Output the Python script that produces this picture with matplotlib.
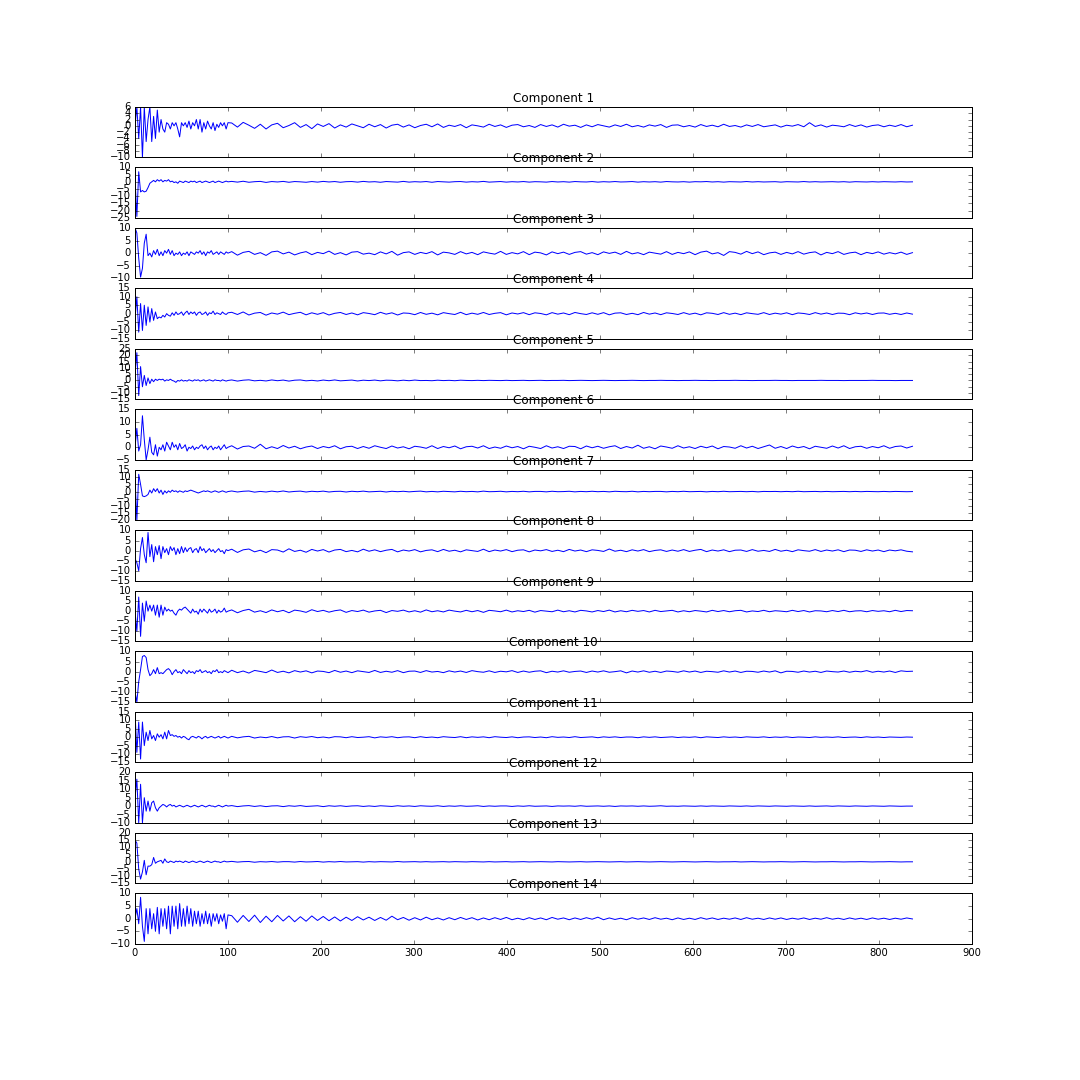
import numpy as np
import matplotlib
matplotlib.use("Agg")
import matplotlib.pyplot as plt


# early part of each component, sampled every 2 samples from 0 to 100
head_1 = [0, 6, -4, 6, -10, 6, -5, 2, 6, -5, 3, -4, 5, -2, 2, -1, -2, 1, 0.5, -1,
          1, 0, 1, -1, -3.5, 1, 0, 1, -0.5, 1.5, -1, 1, 0, 2, -1, 2, -2, 1, -1, 1.5,
          0, -1, 1, -1.5, 0.5, -0.5, 1, 0, 1, -1, 1]
head_2 = [2, -24, 7, -7, -6, -7, -6.5, -4, -1, 0, 1, 0, 1.5, 0.5, 1.5, 0, 1, 0.5, 1.5, 0,
          0.5, -0.5, 0, -1, 0.5, 0, -0.5, 0.5, 0, -0.5, 0.5, 0, 0.5, -0.5, 0, 0.5, -0.5, 0, 0.5, 0,
          -0.5, 0, 0.5, -0.5, 0, 0.5, 0, -0.5, 0, 0.5, 0]
head_3 = [10, 8, -2, -9.5, -6, 4, 7.5, -1, 0, -1.5, 1, -0.5, 1.5, -1, 0.5, -1, 1, 0, 1.5, -0.5,
          1, -1, 0, -0.5, 0.5, -1, 0, -0.5, 0.5, -1, 0.5, 0, -0.5, 0.5, 0, 1, -0.5, 0.5, -1, 0.5,
          0, 1, -0.5, 0, 0.5, -0.5, 0.5, 0, -0.5, 0.5, 0]
head_4 = [-3, 10, -11, 6, -10, 5, -7, 4, -5, 3, -4, 1, -3, -2, -2.5, -1, -2, 0, -1, -1.5,
          0.5, -1, 1, -0.5, 0, 1, -1, 0.5, 1.5, -0.5, 1, 0, 1, -1, 0.5, 1, -0.5, 0, 1, -1,
          0.5, 0, 1.5, -0.5, 0.5, 0, -0.5, 1, 0, -0.5, 0.5]
head_5 = [5, 22, -12, 11, -5, 4, -4, 2, -2.5, 1, -1, 1, 0, 1, 0.5, 1, -0.5, 0.5, 0, 1,
          0, -0.5, -1.5, 0, -0.5, 0.5, -0.5, 0, -0.5, 0.5, 0, -0.5, 0.5, 0, 0.5, -0.5, 0, 0.5, -0.5, 0,
          0.5, 0, -0.5, 0.5, 0, 0, -0.5, 0.5, 0, -0.5, 0]
head_6 = [0, 7.5, -1.5, 1, 12.5, 3, -5, -1, 4, -2, -3, 1, -3.5, 0, -1, 1, -1.5, 2, 0.5, -1,
          2, 0, 1, -1, 1.5, -0.5, 0, 1, -1.5, 0, -0.5, 0.5, -1, 0, -0.5, 0.5, 1, -0.5, 0.5, -1,
          0, 0.5, -1, 0, -0.5, 0.5, -1, 0, 1, -0.5, 0]
head_7 = [9, -20, 12, 5, -3, -3.5, -3, -2, 1, -1, 2, 0, 2, -1, 1, -2, 0.5, -1, 0.5, -0.5,
          1, 0, 0.5, -0.5, 0.5, 0, -0.5, 0.5, 0, 0.5, 1, 0.5, 0, -0.5, -1, -0.5, 0, 0.5, 0, 0.5,
          0, -0.5, 0, 0.5, 0, -0.5, 0, 0.5, 0, -0.5, 0]
head_8 = [-4, -6, -10, 1, 6.5, -2, -6, 9, -3, 3, -5.5, 2, -2, 2.5, -4, 2, -1, 1, -2, 2,
          0, 1.5, -2, 1, -1.5, 2, -1, 1.5, -0.5, 1, 1.5, -1, 0.5, 1, -1, 2, 0, 1, -1, 0,
          1, -0.5, 0.5, -1, 0, 1, -0.5, 0, -1.5, 0.5, 0]
head_9 = [0, -10, 7, -12.5, 4, -5, 5, 0, 3, 0, 3, -2, 3, -3, 3, -2, 2, 0, 1, 0,
          0.5, -1, -2, 0, 1, 0.5, 1.5, 2, 1, 0, -1, 1, -0.5, 0, -1.5, 1, -0.5, 1, 0, -1,
          1, -0.5, 0, 1, -1, 0.5, -0.5, 0, 1.5, -0.5, 0]
head_10 = [-10, -15, -5, 1, 7.5, 8, 7, 1, -2, -1, 1, -1, 2, -1, -0.5, -1, 0, 1, 1.5, 0.5,
           -1.5, 0, 1, -0.5, 0, -1, 1, 0, -1, 0.5, -0.5, 0, -1, 0.5, 0, 1, -0.5, 0, 0.5, -0.5,
           0, -1, 0.5, 0, 1, -0.5, 0, -0.5, 0.5, 0, -0.5]
head_11 = [15, -9, 9, -13, 9, -5, 3, -2, 4, -1, 1, -2, 2, 0, 1.5, -1, 3, -1, 4, 1,
           1.5, 0.5, 1, 0, 0.5, -0.5, 0.5, 0, -1, -1.5, 0, 0.5, 0, -0.5, 0.5, 0, -1, 0, 0.5, -0.5,
           0, 0.5, 0, -0.5, 0, 0.5, -0.5, 0, 0.5, 0, -0.5]
head_12 = [5, 16, -10, 13, -10, 5, -3, 3, -3, 2, 3, -1, -3, -1, 0, 1, 0.5, -0.5, 0.5, 1,
           0, 0.5, -0.5, 0, 0.5, 0, -0.5, 0, 0.5, 0, -0.5, 0, 0.5, 0, -0.5, 0, 0.5, 0, -0.5, 0,
           0.5, 0, 0, -0.5, 0, 0.5, 0, -0.5, 0, 0.5, 0]
head_13 = [15, 13, -5, -12, -7, 1, -9, -3, -3, -2, 3, -1, 0, 0.5, 1, -1, 2, 0, -0.5, 0.5,
           0, -0.5, 0.5, 0, 0.5, 0, -0.5, 0.5, 0, -0.5, 0, 0.5, 0, -0.5, 0, 0.5, 0, -0.5, 0, 0.5,
           0, -0.5, 0, 0.5, 0, 0, -0.5, 0, 0.5, 0, 0]
head_14 = [0, 4, -2, 8.5, -3, -9, 4, -6, 4, -4, 2, -5, 4.5, -6, 4, -3, 4, -4, 5, -6,
           5, -3, 5, -4, 6, -3, 4, -3, 5, -2, 4, -3, 3, -2, 3, -3, 2, -2, 3, -2,
           2, -3, 2, -1, 2, -2, 1.5, -1, 2, -4, 1.5]

# later part of each component, from sample 104 to the last sample (836)
tail_1 = [0.9, -0.4, 1.1, 0.2, -0.8, 0.5, -1.0, 0.3, 0.8, -0.6, 0.1, 1.0, -0.5, 0.4, -0.9, 0.6,
          -0.2, 0.7, -0.7, 0.3, -0.4, 0.6, 0.0, -0.6, 0.5, -0.3, 0.4, -0.7, 0.2, 0.5, -0.4, 0.3,
          -0.6, 0.1, 0.5, -0.3, 0.6, -0.5, 0.2, -0.2, 0.4, -0.6, 0.3, 0.0, -0.4, 0.5, -0.2, 0.3,
          -0.5, 0.2, 0.4, -0.3, 0.1, -0.5, 0.4, -0.2, 0.3, -0.4, 0.5, -0.1, 0.2, -0.5, 0.3, -0.3,
          0.4, 0.0, -0.4, 0.3, -0.2, 0.5, -0.3, 0.1, -0.4, 0.3, -0.1, 0.4, -0.5, 0.2, 0.3, -0.3,
          0.1, -0.4, 0.4, -0.2, 0.2, -0.3, 0.5, -0.2, 0.1, -0.4, 0.3, -0.2, 0.4, -0.3, 0.0, 0.3,
          -0.4, 0.2, -0.1, 0.4, -0.3, 1.0, -0.2, 0.3, -0.4, 0.2, 0.0, -0.3, 0.4, -0.2, 0.3, -0.4,
          0.1, 0.3, -0.3, 0.2, -0.2, 0.4, -0.3, 0.2]
tail_2 = [0.3, -0.2, 0.4, -0.3, 0.1, 0.3, -0.4, 0.2, -0.1, 0.3, -0.3, 0.2, 0.0, -0.3, 0.2, -0.2,
          0.3, -0.1, 0.2, -0.3, 0.1, 0.2, -0.2, 0.3, -0.1, 0.1, -0.3, 0.2, 0.0, -0.2, 0.3, -0.2,
          0.1, -0.1, 0.2, -0.3, 0.2, 0.0, -0.2, 0.1, 0.2, -0.2, 0.1, -0.1, 0.3, -0.2, 0.0, 0.2,
          -0.2, 0.1, -0.1, 0.2, -0.2, 0.1, 0.0, -0.2, 0.2, -0.1, 0.1, -0.2, 0.2, 0.0, -0.1, 0.2,
          -0.2, 0.1, -0.1, 0.2, -0.1, 0.0, 0.2, -0.2, 0.1, -0.1, 0.1, -0.2, 0.2, 0.0, -0.1, 0.1,
          -0.2, 0.1, 0.0, 0.2, -0.1, 0.1, -0.2, 0.1, 0.0, -0.1, 0.2, -0.1, 0.1, -0.1, 0.0, 0.1,
          -0.2, 0.1, 0.0, -0.1, 0.2, -0.1, 0.1, -0.1, 0.0, 0.1, -0.1, 0.1, -0.2, 0.1, 0.0, -0.1,
          0.1, -0.1, 0.1, 0.0, -0.1, 0.1, -0.1, 0.0]
tail_3 = [0.6, -0.8, 0.3, 0.7, -0.5, 0.2, -0.9, 0.5, 0.8, -0.3, 0.4, -0.7, 0.1, 0.6, -0.6, 0.3,
          -0.2, 0.8, -0.5, 0.2, -0.7, 0.4, 0.6, -0.4, 0.0, -0.6, 0.5, -0.3, 0.7, -0.8, 0.2, 0.5,
          -0.5, 0.3, -0.2, 0.6, -0.7, 0.4, 0.1, -0.5, 0.6, -0.3, 0.3, -0.6, 0.5, 0.0, -0.4, 0.7,
          -0.5, 0.2, -0.3, 0.6, -0.6, 0.4, 0.1, -0.7, 0.5, -0.2, 0.4, -0.5, 0.3, 0.6, -0.4, 0.2,
          -0.6, 0.5, -0.1, 0.4, -0.5, 0.7, -0.3, 0.2, -0.6, 0.4, 0.0, -0.4, 0.6, -0.5, 0.3, -0.2,
          0.5, -0.6, 0.4, 0.8, -0.3, 0.2, -0.9, 0.6, 0.3, -0.4, 0.7, -0.2, 0.5, -0.6, 0.1, 0.4,
          -0.5, 0.3, -0.3, 0.6, -0.4, 0.2, 0.5, -0.7, 0.3, -0.2, 0.6, -0.5, 0.1, 0.4, -0.6, 0.3,
          -0.2, 0.5, -0.4, 0.2, -0.3, 0.4, -0.5, 0.2]
tail_4 = [0.8, -0.5, 1.0, -0.8, 0.3, 0.7, -0.9, 0.4, -0.3, 0.9, -0.6, 0.2, 0.8, -0.7, 0.5, -0.4,
          0.6, -0.8, 0.2, 0.7, -0.5, 0.4, -0.7, 0.6, 0.1, -0.6, 0.8, -0.3, 0.5, -0.8, 0.4, 0.2,
          -0.6, 0.7, -0.4, 0.3, -0.7, 0.6, 0.0, -0.5, 0.8, -0.6, 0.3, -0.4, 0.7, -0.5, 0.2, 0.6,
          -0.7, 0.4, -0.2, 0.6, -0.6, 0.5, 0.1, -0.7, 0.6, -0.3, 0.4, -0.6, 0.7, 0.0, -0.5, 0.5,
          -0.4, 0.6, -0.7, 0.3, 0.5, -0.5, 0.2, -0.6, 0.7, -0.3, 0.4, -0.6, 0.5, 0.1, -0.5, 0.6,
          -0.4, 0.3, -0.7, 0.5, 0.2, -0.5, 0.6, -0.4, 0.3, -0.6, 0.5, 0.0, -0.4, 0.6, -0.5, 0.3,
          -0.3, 0.5, -0.6, 0.4, 0.1, -0.5, 0.6, -0.3, 0.4, -0.5, 0.3, 0.2, -0.6, 0.5, -0.2, 0.4,
          -0.5, 0.3, 0.4, -0.4, 0.2, -0.5, 0.4, -0.3]
tail_5 = [0.4, -0.5, 0.2, 0.5, -0.3, 0.1, -0.4, 0.4, -0.2, 0.3, -0.5, 0.2, 0.4, -0.3, 0.1, -0.4,
          0.3, -0.2, 0.4, -0.3, 0.0, 0.3, -0.4, 0.2, -0.1, 0.3, -0.3, 0.2, 0.1, -0.3, 0.2, -0.2,
          0.3, -0.1, 0.0, -0.2, 0.2, -0.1, 0.1, -0.2, 0.2, 0.0, -0.1, 0.1, -0.1, 0.1, 0.0, -0.1,
          0.1, -0.1, 0.0, 0.1, -0.1, 0.0, 0.1, -0.1, 0.0, 0.0, 0.1, -0.1, 0.0, 0.1, 0.0, -0.1,
          0.0, 0.1, 0.0, -0.1, 0.0, 0.0, 0.1, 0.0, -0.1, 0.0, 0.0, 0.1, 0.0, 0.0, -0.1, 0.0,
          0.0, 0.1, 0.0, 0.0, -0.1, 0.0, 0.0, 0.0, 0.1, 0.0, 0.0, -0.1, 0.0, 0.0, 0.0, 0.1,
          0.0, 0.0, -0.1, 0.0, 0.0, 0.0, 0.0, 0.1, 0.0, 0.0, 0.0, -0.1, 0.0, 0.0, 0.0, 0.0,
          0.1, 0.0, 0.0, 0.0, -0.1, 0.0, 0.0, 0.0]
tail_6 = [0.6, -0.7, 0.3, 0.5, -0.4, 1.2, -0.6, 0.2, -0.5, 0.7, -0.3, 0.4, -0.6, 0.1, 0.5, -0.5,
          0.3, -0.2, 0.6, -0.6, 0.2, 0.4, -0.5, 0.3, -0.4, 0.6, 0.0, -0.5, 0.5, -0.3, 0.2, -0.6,
          0.4, 0.1, -0.4, 0.6, -0.5, 0.3, -0.2, 0.5, -0.6, 0.2, 0.4, -0.3, 0.6, -0.5, 0.1, -0.4,
          0.5, -0.2, 0.3, -0.6, 0.4, 0.0, -0.5, 0.6, -0.3, 0.2, -0.5, 0.4, 0.3, -0.6, 0.5, -0.2,
          0.4, -0.4, 0.2, 0.6, -0.5, 0.3, -0.3, 0.8, -0.4, 0.2, -0.6, 0.5, 0.1, -0.4, 0.6, -0.3,
          0.2, -0.5, 0.4, -0.2, 0.5, -0.6, 0.3, 0.1, -0.4, 0.6, -0.3, 0.4, -0.5, 0.2, 0.9, -0.4,
          0.3, -0.5, 0.5, -0.2, 0.3, -0.6, 0.4, 0.0, -0.4, 0.5, -0.3, 0.6, -0.5, 0.2, 0.4, -0.4,
          0.3, -0.2, 0.6, -0.4, 0.3, 0.5, -0.3, 0.4]
tail_7 = [0.4, -0.3, 0.2, 0.4, -0.4, 0.1, -0.3, 0.3, -0.2, 0.4, -0.3, 0.1, 0.3, -0.3, 0.2, -0.1,
          0.3, -0.3, 0.1, 0.2, -0.3, 0.2, -0.1, 0.3, -0.2, 0.0, 0.2, -0.3, 0.2, -0.1, 0.2, -0.2,
          0.1, 0.3, -0.2, 0.1, -0.2, 0.2, 0.0, -0.2, 0.2, -0.1, 0.1, -0.2, 0.3, -0.1, 0.0, 0.2,
          -0.2, 0.1, -0.1, 0.2, -0.2, 0.1, 0.1, -0.2, 0.2, -0.1, 0.0, 0.2, -0.2, 0.1, -0.1, 0.2,
          -0.1, 0.1, -0.2, 0.2, 0.0, -0.1, 0.2, -0.2, 0.1, -0.1, 0.1, 0.1, -0.2, 0.1, -0.1, 0.2,
          -0.1, 0.0, 0.1, -0.2, 0.1, -0.1, 0.2, -0.1, 0.0, 0.1, -0.1, 0.1, -0.2, 0.1, 0.0, 0.1,
          -0.1, 0.1, -0.1, 0.2, -0.1, 0.0, 0.1, -0.1, 0.1, -0.1, 0.0, 0.1, -0.1, 0.1, -0.1, 0.1,
          0.0, -0.1, 0.1, -0.1, 0.1, 0.0, -0.1, 0.0]
tail_8 = [0.7, -0.9, 0.4, 0.8, -0.6, 0.2, -1.0, 0.5, 0.3, -0.7, 0.9, -0.4, 0.2, -0.8, 0.6, -0.2,
          0.5, -0.7, 0.3, 0.6, -0.5, 0.1, -0.6, 0.7, -0.3, 0.4, -0.5, 0.2, 0.6, -0.6, 0.3, -0.2,
          0.5, -0.6, 0.1, 0.4, -0.5, 0.6, -0.3, 0.2, -0.6, 0.4, 0.0, -0.4, 0.7, -0.5, 0.3, -0.2,
          0.5, -0.5, 0.2, 0.4, -0.6, 0.3, -0.1, 0.5, -0.4, 0.2, -0.5, 0.6, -0.2, 0.3, -0.5, 0.4,
          0.1, -0.4, 0.8, -0.3, 0.2, -0.5, 0.4, -0.2, 0.5, -0.5, 0.1, 0.4, -0.4, 0.3, -0.3, 0.5,
          -0.4, 0.2, 0.6, -0.5, 0.3, -0.2, 0.4, -0.5, 0.2, 0.3, -0.4, 0.5, -0.3, 0.1, -0.4, 0.6,
          -0.3, 0.2, -0.5, 0.4, 0.0, -0.3, 0.5, -0.4, 0.3, -0.2, 0.4, -0.5, 0.3, 0.2, -0.4, 0.4,
          -0.2, 0.3, -0.5, 0.3, -0.1, 0.4, -0.3, -0.6]
tail_9 = [0.6, -0.8, 0.3, 0.9, -0.5, 0.2, -0.7, 0.6, -0.3, 0.4, -0.8, 0.5, 0.1, -0.6, 0.7, -0.2,
          0.4, -0.5, 0.2, 0.6, -0.6, 0.3, -0.2, 0.5, -0.5, 0.1, 0.4, -0.7, 0.3, -0.1, 0.5, -0.4,
          0.2, -0.5, 0.6, -0.3, 0.2, -0.4, 0.5, 0.0, -0.4, 0.4, -0.3, 0.3, -0.6, 0.4, 0.1, -0.3,
          0.5, -0.4, 0.2, -0.2, 0.4, -0.5, 0.3, 0.0, -0.3, 0.5, -0.3, 0.2, -0.4, 0.4, 0.1, -0.4,
          0.3, -0.2, 0.5, -0.4, 0.2, -0.3, 0.4, -0.1, 0.3, -0.4, 0.4, -0.2, 0.1, 0.4, -0.4, 0.2,
          -0.3, 0.3, 0.0, -0.4, 0.4, -0.2, 0.3, -0.3, 0.2, 0.4, -0.4, 0.1, -0.2, 0.4, -0.3, 0.2,
          0.0, -0.3, 0.4, -0.2, 0.3, -0.4, 0.2, 0.1, -0.3, 0.3, -0.2, 0.4, -0.3, 0.1, 0.2, -0.3,
          0.3, -0.1, 0.2, -0.3, 0.4, -0.2, 0.3, 0.2]
tail_10 = [0.7, -0.5, 0.3, -0.7, 0.6, 0.1, -0.5, 0.8, -0.4, 0.2, -0.6, 0.5, -0.2, 0.4, -0.6, 0.3,
           0.1, -0.5, 0.6, -0.3, 0.3, -0.5, 0.4, 0.0, -0.4, 0.6, -0.4, 0.2, -0.3, 0.5, -0.5, 0.2,
           0.3, -0.4, 0.5, -0.2, 0.1, -0.5, 0.4, -0.2, 0.3, -0.4, 0.5, 0.0, -0.3, 0.4, -0.4, 0.2,
           -0.1, 0.5, -0.4, 0.3, -0.3, 0.2, 0.4, -0.5, 0.2, -0.2, 0.4, -0.3, 0.1, 0.3, -0.4, 0.3,
           -0.2, 0.4, -0.3, 0.0, 0.4, -0.6, 0.3, -0.2, 0.4, -0.3, 0.2, -0.4, 0.3, 0.1, -0.3, 0.4,
           -0.2, 0.3, -0.4, 0.2, 0.0, -0.3, 0.4, -0.2, 0.3, -0.4, 0.2, 0.1, -0.3, 0.3, -0.2, 0.4,
           -0.6, 0.2, 0.1, -0.3, 0.3, -0.2, 0.2, -0.4, 0.3, 0.0, -0.2, 0.3, -0.3, 0.2, -0.1, 0.5,
           -0.3, 0.2, -0.2, 0.3, -0.4, 0.4, 0.1, 0.2]
tail_11 = [0.5, -0.4, 0.2, 0.5, -0.5, 0.1, -0.3, 0.4, -0.4, 0.2, 0.3, -0.5, 0.3, -0.1, 0.4, -0.3,
           0.1, -0.4, 0.3, 0.2, -0.3, 0.3, -0.2, 0.0, 0.3, -0.4, 0.2, -0.1, 0.3, -0.3, 0.1, 0.2,
           -0.3, 0.3, -0.2, 0.1, -0.3, 0.3, 0.0, -0.2, 0.3, -0.3, 0.2, -0.1, 0.2, -0.3, 0.3, 0.0,
           -0.2, 0.2, -0.3, 0.1, 0.2, -0.2, 0.1, -0.3, 0.3, -0.1, 0.1, -0.2, 0.3, -0.2, 0.0, 0.2,
           -0.3, 0.2, -0.1, 0.2, -0.2, 0.1, 0.1, -0.3, 0.2, -0.1, 0.2, -0.2, 0.0, 0.2, -0.2, 0.1,
           -0.1, 0.2, -0.3, 0.2, 0.0, -0.2, 0.2, -0.1, 0.1, -0.2, 0.2, 0.0, -0.1, 0.2, -0.2, 0.1,
           -0.1, 0.2, -0.2, 0.1, 0.0, -0.2, 0.2, -0.1, 0.1, -0.1, 0.2, -0.2, 0.0, 0.1, -0.2, 0.2,
           -0.1, 0.1, -0.2, 0.1, 0.0, -0.1, 0.1, 0.0]
tail_12 = [0.3, -0.3, 0.1, 0.3, -0.2, 0.2, -0.3, 0.1, 0.2, -0.3, 0.2, -0.1, 0.3, -0.2, 0.0, 0.2,
           -0.3, 0.2, -0.1, 0.2, -0.2, 0.1, 0.2, -0.2, 0.1, -0.2, 0.2, 0.0, -0.2, 0.2, -0.1, 0.1,
           -0.2, 0.2, 0.0, -0.1, 0.2, -0.2, 0.1, -0.1, 0.2, -0.1, 0.0, 0.2, -0.2, 0.1, -0.1, 0.1,
           0.1, -0.2, 0.1, -0.1, 0.2, -0.1, 0.0, 0.1, -0.2, 0.1, 0.0, 0.1, -0.1, 0.2, -0.1, 0.0,
           0.1, -0.1, 0.1, -0.2, 0.1, 0.0, 0.1, -0.1, 0.1, -0.1, 0.0, 0.2, -0.1, 0.0, -0.1, 0.1,
           0.0, -0.1, 0.1, -0.1, 0.1, 0.0, -0.1, 0.1, 0.0, -0.1, 0.1, -0.1, 0.1, 0.0, -0.1, 0.1,
           0.0, -0.1, 0.1, 0.0, -0.1, 0.1, -0.1, 0.0, 0.1, -0.1, 0.1, 0.0, -0.1, 0.1, 0.0, -0.1,
           0.1, 0.0, -0.1, 0.1, 0.0, -0.1, 0.0, 0.0]
tail_13 = [0.3, -0.2, 0.1, 0.2, -0.3, 0.1, -0.1, 0.2, -0.2, 0.1, 0.1, -0.2, 0.2, -0.1, 0.0, 0.2,
           -0.2, 0.1, -0.1, 0.2, -0.1, 0.0, 0.1, -0.2, 0.1, -0.1, 0.1, 0.0, -0.1, 0.2, -0.1, 0.0,
           0.1, -0.1, 0.1, -0.1, 0.0, 0.1, -0.1, 0.1, 0.0, -0.1, 0.1, 0.0, -0.1, 0.1, -0.1, 0.0,
           0.1, -0.1, 0.0, 0.1, -0.1, 0.0, 0.1, 0.0, -0.1, 0.1, 0.0, -0.1, 0.0, 0.1, -0.1, 0.0,
           0.1, 0.0, -0.1, 0.0, 0.1, -0.1, 0.0, 0.1, 0.0, -0.1, 0.0, 0.1, 0.0, -0.1, 0.0, 0.1,
           0.0, -0.1, 0.0, 0.1, 0.0, -0.1, 0.0, 0.0, 0.1, -0.1, 0.0, 0.1, 0.0, -0.1, 0.0, 0.0,
           0.1, 0.0, -0.1, 0.0, 0.1, 0.0, -0.1, 0.0, 0.0, 0.1, 0.0, -0.1, 0.0, 0.0, 0.1, 0.0,
           -0.1, 0.0, 0.0, 0.1, 0.0, -0.1, 0.0, 0.0]
tail_14 = [1.2, -1.4, 1.3, -1.1, 1.4, -1.5, 1.0, -1.2, 1.3, -0.9, 1.1, -1.2, 0.8, -1.0, 1.1, -0.7,
           0.9, -0.8, 0.7, -0.9, 0.6, -0.7, 0.8, -0.5, 0.6, -0.7, 0.5, -0.6, 1.0, -0.4, 0.5, -0.6,
           0.4, -0.5, 0.6, -0.4, 0.3, -0.5, 0.4, -0.4, 0.5, -0.3, 0.4, -0.5, 0.3, -0.4, 0.4, -0.3,
           0.5, -0.4, 0.2, -0.4, 0.4, -0.3, 0.3, -0.4, 0.5, -0.2, 0.3, -0.4, 0.3, -0.3, 0.4, -0.2,
           0.6, -0.4, 0.3, -0.3, 0.2, -0.4, 0.4, -0.2, 0.3, -0.3, 0.4, -0.2, 0.2, -0.4, 0.3, -0.3,
           0.2, -0.3, 0.4, -0.2, 0.3, -0.3, 0.2, -0.2, 0.3, -0.3, 0.4, -0.2, 0.2, -0.3, 0.3, -0.2,
           0.3, -0.3, 0.2, -0.2, 0.3, -0.3, 0.2, -0.2, 0.4, -0.2, 0.2, -0.3, 0.3, -0.2, 0.2, -0.3,
           0.3, -0.2, 0.2, -0.3, 0.2, -0.2, 0.3, -0.1]

heads = [head_1, head_2, head_3, head_4, head_5, head_6, head_7,
         head_8, head_9, head_10, head_11, head_12, head_13, head_14]
tails = [tail_1, tail_2, tail_3, tail_4, tail_5, tail_6, tail_7,
         tail_8, tail_9, tail_10, tail_11, tail_12, tail_13, tail_14]

titles = ["Component %d" % (i + 1) for i in range(14)]

# y-axis range and tick step of each subplot
y_ranges = [(-10, 6, 2), (-25, 10, 5), (-10, 10, 5), (-15, 15, 5), (-15, 25, 5),
            (-5, 15, 5), (-20, 15, 5), (-15, 10, 5), (-15, 10, 5), (-15, 10, 5),
            (-15, 15, 5), (-10, 20, 5), (-15, 20, 5), (-10, 10, 5)]

x_ticks = list(range(0, 901, 100))
last_sample = 836


plt.style.use('classic')
fig, axes = plt.subplots(14, 1, figsize=(15, 15), dpi=72)
fig.patch.set_facecolor('white')
fig.subplots_adjust(left=0.125, right=0.9, top=0.901, bottom=0.126, hspace=0.2)

for i, ax in enumerate(axes):
    head = np.array(heads[i], dtype=float)
    tail = np.array(tails[i], dtype=float)
    x_head = np.arange(len(head)) * 2
    x_tail = np.linspace(104, last_sample, len(tail))
    x = np.concatenate([x_head, x_tail])
    y = np.concatenate([head, tail])

    ax.plot(x, y, color='b', linewidth=1.0)
    ax.set_title(titles[i], fontsize=12)

    lo, hi, step = y_ranges[i]
    ax.set_ylim(lo, hi)
    ax.set_yticks(np.arange(lo, hi + step, step))
    ax.set_xlim(0, 900)
    ax.set_xticks(x_ticks)
    ax.tick_params(labelsize=10)
    if i < len(axes) - 1:
        ax.set_xticklabels([])

fig.savefig('out.png', dpi=72, facecolor='white')
